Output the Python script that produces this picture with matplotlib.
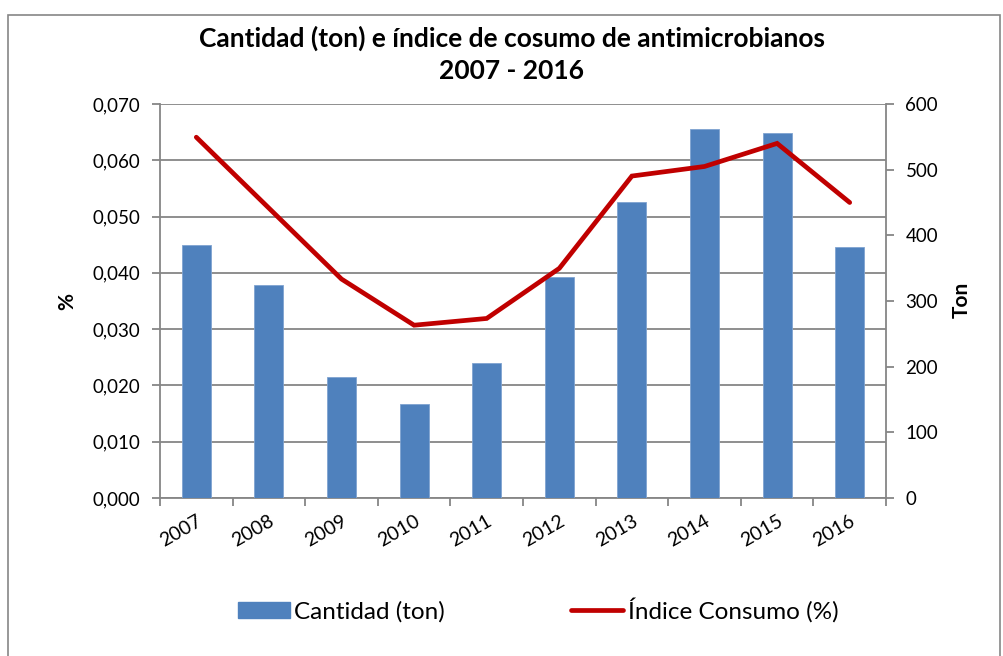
import matplotlib
matplotlib.use('Agg')
import matplotlib.pyplot as plt
import numpy as np
from matplotlib.patches import Patch, Rectangle
from matplotlib.lines import Line2D

years = ["2007", "2008", "2009", "2010", "2011", "2012", "2013", "2014", "2015", "2016"]
cantidad_ton = [385, 325, 184, 143, 206, 337, 450, 562, 556, 382]
indice_pct = [0.0641, 0.0515, 0.0389, 0.0307, 0.0319, 0.0408, 0.0572, 0.0589, 0.0630, 0.0525]
pct_ticks = [0.0, 0.01, 0.02, 0.03, 0.04, 0.05, 0.06, 0.07]
ton_ticks = [0, 100, 200, 300, 400, 500, 600]

plt.rcParams['font.family'] = ['Lato', 'DejaVu Sans']
BLUE = '#4F81BD'
RED = '#C00000'
GRAY = '#868686'

fig = plt.figure(figsize=(10.04, 6.56), dpi=100)
fig.patches.append(Rectangle((8 / 1004, -0.05), 992 / 1004, 1.05 - 15 / 656,
                             transform=fig.transFigure, fill=False,
                             edgecolor=GRAY, lw=1.2))

rect = [160 / 1004, 1 - 498 / 656, 726 / 1004, 394 / 656]
ax = fig.add_axes(rect)
x = np.arange(len(years))

# left axis: % with gridlines
ax.set_ylim(0, 0.07)
ax.set_yticks(pct_ticks)
ax.set_yticklabels([f"{v:.3f}".replace('.', ',') for v in pct_ticks], fontsize=13.5)
ax.yaxis.grid(True, color=GRAY, lw=1.3)
ax.set_axisbelow(True)
ax.set_xlim(-0.5, len(years) - 0.5)
ax.set_xticks(np.arange(-0.5, len(years), 1.0))
ax.set_xticklabels([])
ax.set_xticks(x, minor=True)
ax.set_xticklabels(years, minor=True, rotation=30, ha='right', va='top',
                   rotation_mode='anchor', fontsize=14)
ax.tick_params(axis='x', which='minor', length=0, pad=10)
ax.tick_params(axis='x', which='major', length=6, width=1.3, color=GRAY)
ax.tick_params(axis='y', length=6, width=1.3, color=GRAY, pad=8)
for s in ['top', 'right']:
    ax.spines[s].set_visible(False)
for s in ['left', 'bottom']:
    ax.spines[s].set_color(GRAY)
    ax.spines[s].set_linewidth(1.3)

# right axis: bars in tons
ax2 = ax.twinx()
ax2.bar(x, cantidad_ton, width=0.4, color=BLUE, edgecolor='#7FA3D0', lw=0.6, zorder=2)
ax2.set_ylim(0, 600)
ax2.set_yticks(ton_ticks)
ax2.set_yticklabels([str(v) for v in ton_ticks], fontsize=13.5)
ax2.tick_params(axis='y', length=6, width=1.3, color=GRAY, pad=8)
for s in ['top', 'left', 'bottom']:
    ax2.spines[s].set_visible(False)
ax2.spines['right'].set_color(GRAY)
ax2.spines['right'].set_linewidth(1.3)

# line on top, same scale as the left axis
ax3 = ax.twinx()
ax3.plot(x, indice_pct, color=RED, lw=3.4, solid_capstyle='round', solid_joinstyle='miter')
ax3.set_ylim(0, 0.07)
ax3.axis('off')

fig.text(512 / 1004, 1 - 38 / 656, "Cantidad (ton) e índice de cosumo de antimicrobianos",
         ha='center', va='center', fontsize=19, fontweight='bold')
fig.text(512 / 1004, 1 - 71 / 656, "2007 - 2016",
         ha='center', va='center', fontsize=19, fontweight='bold')
fig.text(67 / 1004, 1 - 301 / 656, "%", rotation=90, ha='center', va='center',
         fontsize=15, fontweight='bold')
fig.text(962 / 1004, 1 - 300 / 656, "Ton", rotation=90, ha='center', va='center',
         fontsize=15, fontweight='bold')

handles = [Patch(facecolor=BLUE, edgecolor=BLUE),
           Line2D([0], [0], color=RED, lw=3.4, solid_capstyle='round')]
fig.legend(handles, ["Cantidad (ton)", "Índice Consumo (%)"], loc='center',
           bbox_to_anchor=(538 / 1004, 1 - 610 / 656), ncol=2, frameon=False,
           fontsize=17.5, handlelength=2.14, handletextpad=0.18, columnspacing=5.2,
           handleheight=0.62)

fig.savefig('out.png', dpi=100)
